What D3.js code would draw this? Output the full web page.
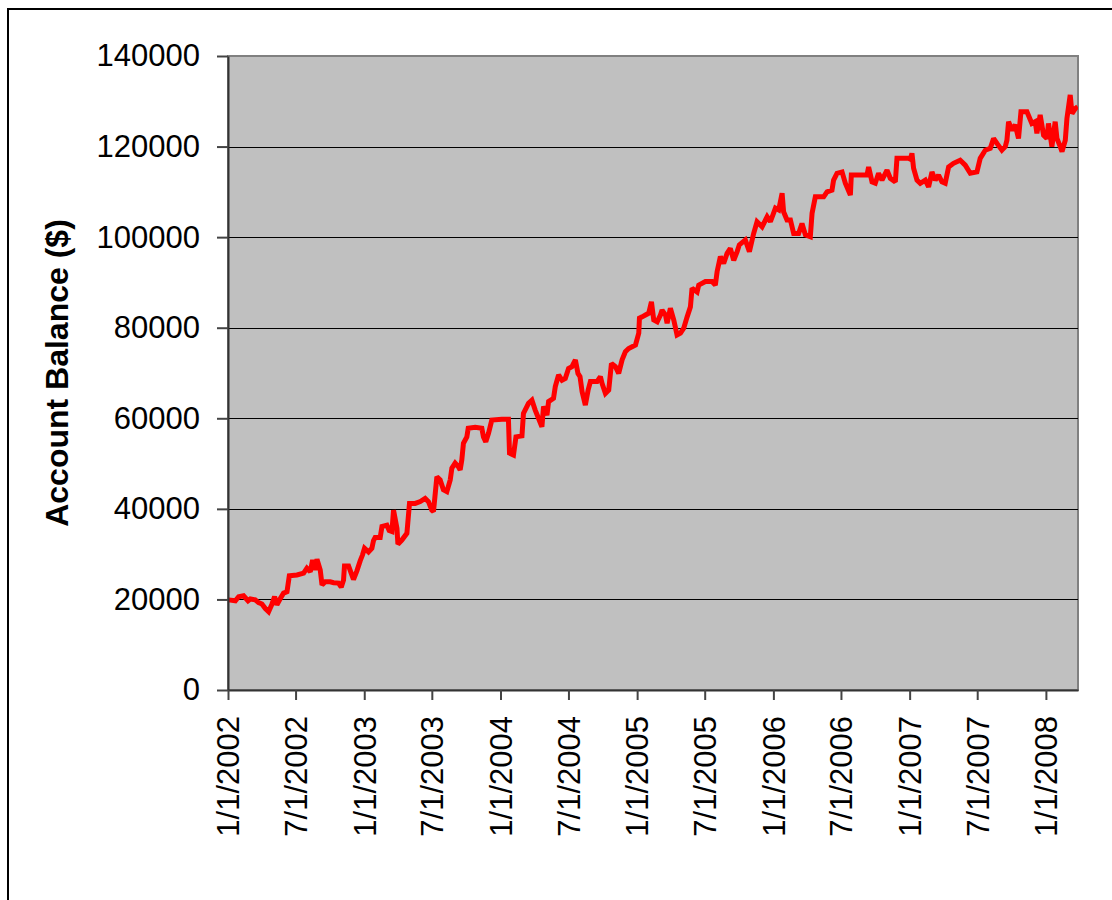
<!DOCTYPE html>
<html>
<head>
<meta charset="utf-8">
<script src="https://cdn.jsdelivr.net/npm/d3@7"></script>
<style>
  body { margin: 0; background: #fff; }
  svg { display: block; font-family: "Liberation Sans", Arial, sans-serif; }
</style>
</head>
<body>
<div id="chart"></div>
<script>
// decimal years
const years = [
  2002.004, 2002.054, 2002.078, 2002.114, 2002.147, 2002.164, 2002.200, 2002.224, 2002.249, 2002.274,
  2002.298, 2002.323, 2002.342, 2002.359, 2002.384, 2002.408, 2002.433, 2002.450, 2002.506, 2002.555,
  2002.579, 2002.604, 2002.621, 2002.640, 2002.653, 2002.677, 2002.690, 2002.714, 2002.750, 2002.775,
  2002.811, 2002.831, 2002.848, 2002.855, 2002.885, 2002.904, 2002.921, 2002.946, 2002.970, 2002.987,
  2003.002, 2003.031, 2003.056, 2003.068, 2003.080, 2003.117, 2003.130, 2003.166, 2003.183, 2003.203,
  2003.215, 2003.240, 2003.247, 2003.276, 2003.313, 2003.332, 2003.374, 2003.411, 2003.447, 2003.471,
  2003.496, 2003.508, 2003.521, 2003.533, 2003.557, 2003.581, 2003.606, 2003.631, 2003.643, 2003.667,
  2003.691, 2003.704, 2003.716, 2003.728, 2003.753, 2003.763, 2003.814, 2003.863, 2003.875, 2003.892,
  2003.912, 2003.936,
  2004.010, 2004.058, 2004.066, 2004.095, 2004.113, 2004.157, 2004.168, 2004.205, 2004.230, 2004.254,
  2004.278, 2004.303, 2004.315, 2004.340, 2004.352, 2004.388, 2004.401, 2004.425, 2004.450, 2004.474,
  2004.498, 2004.523, 2004.548, 2004.567, 2004.582, 2004.597, 2004.621, 2004.641, 2004.658, 2004.707,
  2004.731, 2004.743, 2004.768, 2004.792, 2004.812, 2004.841, 2004.865, 2004.890, 2004.914, 2004.938,
  2004.988,
  2005.012, 2005.017, 2005.037, 2005.061, 2005.085, 2005.105, 2005.122, 2005.147, 2005.171, 2005.183,
  2005.208, 2005.220, 2005.244, 2005.269, 2005.293, 2005.318, 2005.342, 2005.367, 2005.391, 2005.403,
  2005.440, 2005.452, 2005.501, 2005.550, 2005.574, 2005.587, 2005.611, 2005.635, 2005.660, 2005.684,
  2005.709, 2005.734, 2005.750, 2005.794, 2005.824, 2005.855, 2005.880, 2005.917, 2005.954, 2005.978,
  2006.015, 2006.039, 2006.064, 2006.075, 2006.100, 2006.125, 2006.149, 2006.185, 2006.210, 2006.235,
  2006.271, 2006.284, 2006.308, 2006.369, 2006.394, 2006.430, 2006.442, 2006.467, 2006.504, 2006.528,
  2006.565, 2006.572, 2006.687, 2006.699, 2006.724, 2006.748, 2006.772, 2006.797, 2006.834, 2006.858,
  2006.895, 2006.907, 2006.992,
  2007.005, 2007.017, 2007.029, 2007.054, 2007.078, 2007.115, 2007.139, 2007.164, 2007.188, 2007.212,
  2007.237, 2007.261, 2007.286, 2007.322, 2007.371, 2007.408, 2007.445, 2007.494, 2007.518, 2007.555,
  2007.592, 2007.616, 2007.641, 2007.677, 2007.702, 2007.714, 2007.726, 2007.751, 2007.775, 2007.799,
  2007.817, 2007.861, 2007.897, 2007.922, 2007.934, 2007.958, 2007.983,
  2008.007, 2008.019, 2008.044, 2008.068, 2008.081, 2008.105, 2008.118, 2008.142, 2008.154, 2008.178,
  2008.191, 2008.215, 2008.233
];

const balances = [
  19900, 19700, 20600, 20800, 19700, 20100, 19900, 19300, 19000, 18000,
  17300, 19000, 20600, 18800, 20200, 21400, 21700, 25200, 25400, 25800,
  26900, 26100, 28700, 26500, 28900, 26500, 23200, 23900, 23900, 23700,
  23600, 22700, 24300, 27400, 27400, 25800, 24400, 26300, 28500, 29800,
  31300, 30500, 31300, 33000, 33700, 33700, 36100, 36400, 35200, 35000,
  39700, 35700, 32200, 33100, 34600, 41200, 41200, 41600, 42300, 41600,
  39700, 39400, 43400, 47100, 46400, 44200, 43800, 46400, 49000, 50100,
  49300, 48600, 50800, 54500, 55900, 57800, 58000, 57800, 55900, 54800,
  56700, 59600,
  59800, 59800, 52300, 51900, 55900, 56100, 61100, 63300, 64000, 61800,
  60000, 58100, 62600, 60700, 63700, 64400, 67000, 69600, 68400, 68800,
  71000, 71400, 72900, 69900, 69200, 65900, 62900, 66200, 68100, 68100,
  69200, 67700, 65500, 66200, 72100, 71400, 69900, 72900, 74700, 75400,
  76200,
  78800, 82100, 82400, 82800, 83200, 85700, 81700, 81300, 82800, 83900,
  82800, 81000, 84300, 81700, 78400, 78800, 79900, 82400, 84600, 88700,
  87900, 89400, 90200, 90200, 89400, 92400, 95700, 94200, 96400, 97500,
  94900, 96800, 98300, 99400, 96800, 100800, 103400, 102300, 104500, 103400,
  106400, 106000, 109700, 105600, 103800, 103800, 100800, 100800, 103000, 100500,
  100100, 105300, 108900, 108900, 110000, 110400, 112600, 114100, 114400, 111900,
  109300, 113700, 113700, 115500, 112200, 111900, 114100, 112600, 114800, 113000,
  112200, 117400, 117400,
  117200, 118500, 115200, 112600, 111900, 112600, 111100, 114400, 112600, 113700,
  112200, 111900, 115500, 116300, 117000, 115900, 114100, 114400, 117400, 119200,
  119600, 121800, 120700, 119200, 120000, 121400, 125500, 123600, 124800, 121800,
  127700, 127700, 125100, 125500, 122900, 127000, 122500,
  121800, 125100, 120000, 125500, 121800, 120000, 118900, 121400, 126200, 131400,
  127300, 128400, 128800
];

const xTickLabels = ["1/1/2002", "7/1/2002", "1/1/2003", "7/1/2003", "1/1/2004", "7/1/2004",
  "1/1/2005", "7/1/2005", "1/1/2006", "7/1/2006", "1/1/2007", "7/1/2007", "1/1/2008"];
const yTicks = [0, 20000, 40000, 60000, 80000, 100000, 120000, 140000];
const xEnd = 2008.235;

function toDate(y) {
    const yr = Math.floor(y);
    const a = new Date(yr, 0, 1), b = new Date(yr + 1, 0, 1);
    return new Date(+a + (y - yr) * (b - a));
}

const parse = d3.timeParse("%m/%d/%Y");
const data = years.map((y, i) => ({ date: toDate(y), value: balances[i] }));

const W = 1112, H = 900;
const margin = { top: 56, left: 228 };
const width = 850, height = 634;

const svg = d3.select("#chart").append("svg")
    .attr("width", W)
    .attr("height", H);

// outer chart border
svg.append("rect")
    .attr("x", 8).attr("y", 9)
    .attr("width", 1130).attr("height", 920)
    .attr("fill", "none")
    .attr("stroke", "#000")
    .attr("stroke-width", 2);

const g = svg.append("g")
    .attr("transform", `translate(${margin.left},${margin.top})`);

const x = d3.scaleTime()
    .domain([toDate(2002), toDate(xEnd)])
    .range([0, width]);
const y = d3.scaleLinear().domain([0, 140000]).range([height, 0]);

g.append("rect")
    .attr("width", width).attr("height", height)
    .attr("fill", "#c0c0c0")
    .attr("stroke", "#808080")
    .attr("stroke-width", 2);

g.append("g")
    .selectAll("line")
    .data(yTicks.filter(d => d > 0 && d < 140000))
    .join("line")
    .attr("x1", 0).attr("x2", width)
    .attr("y1", d => Math.round(y(d)) + 0.5)
    .attr("y2", d => Math.round(y(d)) + 0.5)
    .attr("stroke", "#000")
    .attr("stroke-width", 1);

g.append("defs").append("clipPath").attr("id", "clip")
    .append("rect").attr("width", width).attr("height", height);

const line = d3.line()
    .x(d => x(d.date))
    .y(d => y(d.value));

g.append("path")
    .datum(data)
    .attr("clip-path", "url(#clip)")
    .attr("fill", "none")
    .attr("stroke", "#ff0000")
    .attr("stroke-width", 5)
    .attr("stroke-linejoin", "miter")
    .attr("stroke-miterlimit", 2)
    .attr("d", line);

const yAxis = g.append("g")
    .call(d3.axisLeft(y).tickValues(yTicks).tickSize(11).tickSizeOuter(0).tickPadding(17)
        .tickFormat(d3.format("d")));

const xAxis = g.append("g")
    .attr("transform", `translate(0,${height})`)
    .call(d3.axisBottom(x).tickValues(xTickLabels.map(parse)).tickSize(10).tickSizeOuter(0)
        .tickFormat((d, i) => xTickLabels[i]));

xAxis.selectAll("text")
    .attr("transform", "rotate(-90)")
    .attr("text-anchor", "end")
    .attr("x", -26)
    .attr("y", 0)
    .attr("dy", "0.35em");

[xAxis, yAxis].forEach(a => {
    a.select(".domain").attr("stroke", "#333").attr("stroke-width", 2);
    a.selectAll(".tick line").attr("stroke", "#444").attr("stroke-width", 2);
    a.selectAll("text")
        .attr("fill", "#000")
        .style("font-size", "31px")
        .style("font-family", "'Liberation Sans', Arial, sans-serif");
});

svg.append("text")
    .attr("transform", `translate(57,${margin.top + height / 2}) rotate(-90)`)
    .attr("text-anchor", "middle")
    .attr("dy", "0.35em")
    .style("font-size", "32px")
    .style("font-weight", "bold")
    .text("Account Balance ($)");
</script>
</body>
</html>
